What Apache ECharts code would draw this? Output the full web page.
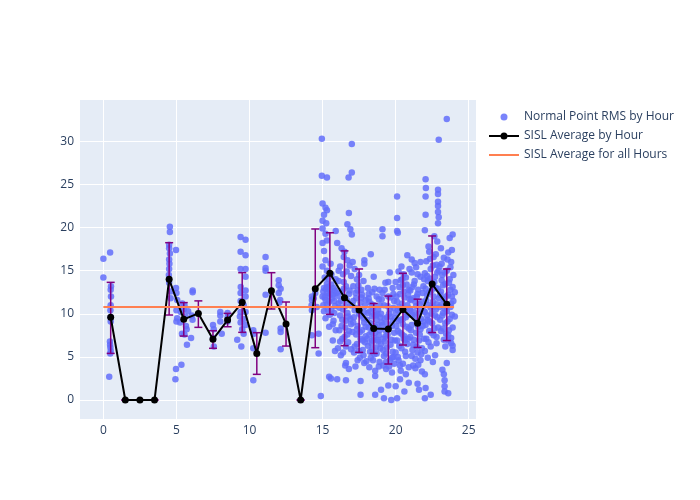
<!DOCTYPE html>
<html>
<head>
<meta charset="utf-8">
<script src="https://cdn.jsdelivr.net/npm/echarts@6/dist/echarts.min.js"></script>
<style>html,body{margin:0;padding:0;background:#fff;}#c{width:700px;height:500px;}</style>
</head>
<body>
<div id="c"></div>
<script>
// ---- Data ----
const hourX = [0.5,1.5,2.5,3.5,4.5,5.5,6.5,7.5,8.5,9.5,10.5,11.5,12.5,13.5,14.5,15.5,16.5,17.5,18.5,19.5,20.5,21.5,22.5,23.5];
const hourAvg = [9.6,0,0,0,14.0,9.36,10.05,7.04,9.28,11.33,5.41,12.68,8.82,0,12.92,14.7,11.87,10.44,8.31,8.24,10.5,8.9,13.46,11.1];
const hourLow = [5.41,0,0,0,9.86,7.42,8.43,6.0,8.5,7.85,2.98,10.56,6.26,0,6.07,9.94,6.3,5.53,5.41,4.18,6.38,6.1,7.83,6.9];
const hourHigh = [13.65,0,0,0,18.25,11.3,11.5,8.04,10.05,14.77,7.81,14.77,11.37,0,19.84,19.4,17.3,15.2,11.2,12.06,14.7,11.7,19.03,15.2];
const overallAvg = 10.8;
const overallRange = [0, 24];

const ptsH0 = [[0.0,16.4],[0.46,17.1],[0.0,14.2],[0.52,13.2],[0.5,12.8],[0.52,12.0],[0.5,11.0],[0.48,10.4],[0.5,9.6],[0.5,9.1],[0.45,6.8],[0.46,6.4],[0.48,6.1],[0.5,5.7],[0.47,5.4],[0.4,2.7]];
const ptsH4 = [[4.55,20.1],[4.55,19.5],[4.5,18.0],[4.5,17.6],[4.55,17.0],[4.97,17.4],[4.5,16.3],[4.52,15.8],[4.5,15.2],[4.48,14.5],[4.5,13.6],[4.97,13.0],[4.6,12.6],[5.0,12.4],[4.6,11.8],[5.05,11.6],[5.0,10.4],[5.05,9.5],[5.0,9.1],[4.97,3.6],[4.93,2.4]];
const ptsH5 = [[5.38,7.7],[5.34,4.1],[5.72,6.4],[5.5,10.5],[5.55,11.0],[5.6,9.7],[5.65,8.6],[5.7,8.2],[5.55,7.6],[6.0,7.2],[6.11,12.7],[6.11,12.5],[6.1,9.3],[6.05,9.8],[5.8,10.3],[5.3,10.2],[5.25,9.0],[5.4,11.2]];
const ptsH7 = [[7.5,8.7],[7.55,8.2],[7.5,7.2],[7.56,6.2],[8.0,10.2],[8.0,9.8],[8.0,9.1],[8.1,7.7],[8.5,10.1],[8.5,9.6],[8.5,9.1]];
const ptsH9 = [[9.16,7.0],[9.44,6.2],[9.34,9.7],[9.39,18.9],[9.73,18.6],[9.39,17.2],[9.73,16.8],[9.39,15.2],[9.73,15.2],[9.73,14.3],[9.4,13.1],[9.73,12.7],[9.39,12.4],[9.73,12.0],[9.39,11.5],[9.6,11.0],[9.39,10.2],[9.73,10.2],[9.6,9.4],[9.39,9.0],[9.73,8.7],[9.6,7.7],[9.5,8.2]];
const ptsH10 = [[10.26,8.1],[10.26,6.0],[10.26,2.3],[10.3,7.7],[11.1,16.6],[11.1,15.3],[11.1,15.0],[11.1,12.2],[11.1,7.8],[12.0,13.9],[12.0,13.3],[12.13,12.9],[12.0,12.4],[12.1,11.6],[12.13,8.3],[12.13,7.9],[12.13,5.9],[12.05,11.3]];
const ptsH14 = [[14.27,12.0],[14.27,11.6],[14.25,11.0],[14.27,10.4],[14.27,7.5],[14.73,7.7],[14.73,5.4],[14.88,0.46],[14.4,11.8],[14.5,12.4],[14.6,10.8]];
const ptsH15 = [[14.95,30.3],[14.95,26.0],[15.3,25.8],[15.0,22.8],[15.2,22.3],[15.3,22.0],[15.1,21.5],[15.0,20.8],[15.25,20.5],[15.0,19.9],[15.2,19.3],[15.0,18.2],[15.3,18.5],[15.1,17.3],[15.0,15.5],[15.3,15.0],[15.15,14.2],[15.3,13.5],[15.1,13.0],[15.3,12.4],[15.0,12.0],[15.2,11.6],[15.05,11.0],[15.4,12.1],[15.5,12.8],[15.6,13.4],[15.7,12.2],[15.8,11.5],[15.45,8.5],[15.45,2.7],[15.6,10.4],[15.75,9.2],[15.9,14.0],[15.55,15.8],[15.9,19.6],[15.85,12.7],[15.7,8.8],[15.57,2.5],[15.2,9.5],[15.35,10.5],
  [15.05,12.6],[15.15,11.9],[15.25,12.9],[15.35,13.1],[15.45,11.4],[15.55,12.3],[15.65,11.8],[15.75,13.0],[15.85,10.9],[15.95,12.4],[15.1,10.3],[15.3,11.1],[15.5,9.9],[15.8,10.1],[15.6,14.6],[15.4,14.1],[15.2,16.2],[15.9,8.1],[15.7,6.9],[15.85,5.7]];
const ptsH16 = [[16.0,2.4],[16.6,2.3],[16.78,25.8],[16.8,21.7],[16.7,20.4],[16.9,19.8],[17.0,19.2],[16.0,18.2],[16.3,17.6],[16.5,17.2],[16.7,16.2],[16.2,15.5],[16.4,14.6],[16.1,13.8],[16.6,13.2],[16.3,12.6],[16.8,12.3],[16.5,11.8],[16.1,11.2],[16.9,11.0],[16.4,10.5],[16.7,10.1],[16.2,9.8],[16.6,9.2],[16.3,8.6],[16.8,8.0],[16.5,7.3],[16.2,6.8],[16.6,6.2],[16.4,5.5],[16.6,4.3],[16.55,4.0],[16.8,3.6],[16.1,15.0],[16.95,14.4],[16.45,16.6],[16.9,9.4],[16.7,7.6],[17.0,29.7],[17.0,26.4],
  [16.05,12.1],[16.15,10.7],[16.25,11.5],[16.35,9.3],[16.45,12.9],[16.55,10.9],[16.65,11.6],[16.75,9.7],[16.85,12.7],[16.95,8.8],[16.15,8.1],[16.35,7.1],[16.55,8.4],[16.75,6.7],[16.95,5.9],[16.25,5.2],[16.45,13.7],[16.65,14.9],[16.85,15.6],[16.05,6.0]];
const ptsH17 = [[17.06,16.0],[17.86,16.2],[17.86,15.8],[17.2,15.2],[17.5,14.5],[17.8,13.8],[17.1,13.2],[17.4,12.7],[17.7,12.2],[17.3,11.8],[17.6,11.3],[17.9,10.9],[17.2,10.4],[17.5,10.0],[17.8,9.5],[17.1,9.0],[17.4,8.6],[17.7,8.1],[17.3,7.6],[17.6,7.1],[17.9,6.7],[17.2,6.2],[17.5,5.7],[17.8,5.2],[17.85,4.3],[17.6,2.2],[17.6,0.6],[17.4,4.6],[17.95,11.6],[17.05,7.9],[17.65,9.8],[17.35,14.0],
  [17.05,11.0],[17.15,9.6],[17.25,12.4],[17.35,8.2],[17.45,10.7],[17.55,7.9],[17.65,11.9],[17.75,6.9],[17.85,9.0],[17.95,7.4],[17.15,5.5],[17.35,6.5],[17.55,4.9],[17.75,5.8],[17.95,8.5],[17.25,3.9],[17.45,13.3],[17.65,12.8],[17.85,10.2],[17.1,11.5]];
const ptsH18 = [[18.3,16.9],[18.6,3.4],[18.6,2.8],[18.6,0.6],[18.1,13.0],[18.4,12.5],[18.7,12.0],[18.2,11.4],[18.5,11.0],[18.8,10.5],[18.1,10.1],[18.4,9.7],[18.7,9.3],[18.3,8.9],[18.6,8.5],[18.9,8.1],[18.2,7.6],[18.5,7.2],[18.8,6.8],[18.1,6.3],[18.4,5.9],[18.7,5.4],[18.3,4.9],[18.9,4.4],[18.0,4.5],[18.55,9.9],[18.85,11.7],[18.35,7.9],[18.95,6.0],[18.15,8.4],[18.75,7.0],[18.45,10.6],[18.5,14.3],[18.9,12.8],[18.2,3.8],
  [18.05,9.3],[18.15,11.8],[18.25,10.3],[18.35,6.6],[18.45,8.2],[18.55,5.3],[18.65,9.8],[18.75,8.7],[18.85,7.5],[18.95,9.6],[18.05,7.1],[18.25,5.6],[18.45,4.6],[18.65,6.1],[18.85,3.9],[18.15,12.3],[18.35,11.1],[18.55,12.9],[18.75,10.0],[18.95,11.0],[18.6,7.8],[18.4,6.9]];
const ptsH19 = [[19.1,19.8],[19.1,19.0],[19.2,0.2],[19.7,0.0],[19.5,1.7],[19.0,1.2],[19.6,14.8],[19.3,13.6],[19.8,13.0],[19.1,12.4],[19.5,12.0],[19.9,11.5],[19.2,11.0],[19.6,10.5],[19.0,10.0],[19.4,9.6],[19.8,9.2],[19.1,8.7],[19.5,8.3],[19.9,7.8],[19.3,7.4],[19.7,7.0],[19.0,6.5],[19.4,6.1],[19.8,5.6],[19.2,5.1],[19.6,4.6],[19.9,4.2],[19.35,3.6],[19.75,3.2],[19.45,8.8],[19.65,9.7],[19.25,6.8],[19.85,10.7],[19.15,4.0],
  [19.05,9.0],[19.15,7.1],[19.25,9.4],[19.35,5.4],[19.45,7.6],[19.55,10.0],[19.65,6.4],[19.75,8.6],[19.85,5.0],[19.95,9.5],[19.05,11.7],[19.25,12.8],[19.45,10.9],[19.65,11.9],[19.85,12.3],[19.15,5.8],[19.35,4.4],[19.55,3.9],[19.75,4.9],[19.95,6.9],[19.5,13.7],[19.3,8.1]];
const ptsH20 = [[20.1,23.6],[20.1,21.1],[20.1,19.6],[20.15,19.4],[20.8,16.8],[20.6,1.0],[20.3,2.4],[20.1,0.2],[20.0,1.6],[20.4,15.5],[20.2,14.9],[20.7,14.2],[20.0,13.7],[20.5,13.3],[20.9,12.8],[20.3,12.3],[20.6,11.9],[20.1,11.4],[20.8,11.0],[20.4,10.5],[20.0,10.1],[20.7,9.6],[20.2,9.2],[20.5,8.8],[20.9,8.3],[20.3,7.8],[20.6,7.4],[20.1,6.9],[20.8,6.5],[20.4,6.0],[20.0,5.5],[20.7,5.1],[20.2,4.6],[20.5,4.2],[20.9,3.8],[20.35,3.4],[20.55,12.6],[20.25,10.8],[20.85,9.9],[20.15,8.0],[20.65,6.9],[20.45,14.0],[20.95,15.2],
  [20.05,12.0],[20.15,10.4],[20.25,13.1],[20.35,9.3],[20.45,11.2],[20.55,7.1],[20.65,10.2],[20.75,8.5],[20.85,12.2],[20.95,10.6],[20.05,8.6],[20.25,6.3],[20.45,7.6],[20.65,5.6],[20.85,7.1],[20.15,5.0],[20.35,13.9],[20.55,14.6],[20.75,13.4],[20.95,11.7],[20.5,9.4],[20.3,4.0],[20.7,3.0],[20.9,2.0]];
const ptsH21 = [[21.6,1.2],[21.5,1.9],[21.2,4.0],[21.8,3.3],[21.4,15.4],[21.1,14.8],[21.7,14.3],[21.3,13.8],[21.9,13.2],[21.0,12.7],[21.5,12.3],[21.2,11.8],[21.8,11.4],[21.4,10.9],[21.0,10.5],[21.6,10.0],[21.3,9.6],[21.9,9.1],[21.1,8.7],[21.7,8.2],[21.4,7.8],[21.0,7.3],[21.6,6.9],[21.2,6.4],[21.8,6.0],[21.5,5.5],[21.1,5.1],[21.7,4.6],[21.35,3.7],[21.45,12.0],[21.75,10.6],[21.15,9.9],[21.55,8.5],[21.95,7.1],[21.25,13.4],
  [21.05,11.6],[21.15,13.1],[21.25,10.2],[21.35,11.4],[21.45,9.0],[21.55,12.8],[21.65,11.1],[21.75,9.4],[21.85,12.4],[21.95,10.3],[21.05,8.1],[21.25,7.0],[21.45,6.2],[21.65,7.6],[21.85,8.6],[21.15,5.8],[21.35,4.8],[21.55,4.1],[21.75,5.3],[21.95,14.0],[21.5,14.6],[21.3,15.9],[21.1,16.3],[21.7,16.0]];
const ptsH22 = [[22.05,25.6],[22.07,24.6],[22.05,23.6],[22.05,21.5],[22.0,19.7],[22.9,24.4],[22.9,23.9],[22.9,23.0],[22.9,22.5],[22.9,21.8],[22.95,21.2],[22.9,20.5],[22.95,30.2],[22.0,0.2],[22.4,0.6],[22.05,1.4],[22.0,3.0],[22.3,17.2],[22.6,16.6],[22.1,16.1],[22.8,15.7],[22.4,15.2],[22.0,14.7],[22.7,14.3],[22.2,13.8],[22.5,13.4],[22.9,12.9],[22.3,12.5],[22.6,12.0],[22.1,11.6],[22.8,11.1],[22.4,10.7],[22.0,10.2],[22.7,9.8],[22.2,9.3],[22.5,8.9],[22.9,8.4],[22.3,8.0],[22.6,7.5],[22.1,7.1],[22.8,6.6],[22.4,6.2],[22.0,5.7],[22.7,5.2],[22.55,4.4],[22.25,17.8],[22.85,18.4],[22.65,19.0],[22.45,10.0],[22.15,12.2],[22.75,13.0],
  [22.05,12.9],[22.15,9.8],[22.25,11.0],[22.35,14.1],[22.45,12.7],[22.55,11.4],[22.65,13.7],[22.75,10.5],[22.85,14.8],[22.95,11.8],[22.05,8.7],[22.25,6.7],[22.45,7.8],[22.65,8.3],[22.85,9.6],[22.15,14.4],[22.35,16.4],[22.55,15.6],[22.75,16.9],[22.95,15.0],[22.6,10.8],[22.3,9.1],[22.8,7.3],[22.2,4.9]];
const ptsH23 = [[23.5,32.6],[23.9,19.2],[23.7,18.8],[23.35,1.6],[23.35,1.0],[23.35,2.3],[23.3,3.0],[23.2,3.5],[23.9,5.8],[23.9,6.3],[23.1,17.6],[23.6,17.1],[23.3,16.5],[23.8,16.0],[23.0,15.5],[23.5,15.0],[23.2,14.5],[23.7,14.0],[23.4,13.5],[23.9,13.1],[23.1,12.6],[23.6,12.2],[23.3,11.7],[23.8,11.2],[23.0,10.8],[23.5,10.3],[23.2,9.8],[23.7,9.4],[23.4,8.9],[23.9,8.4],[23.1,8.0],[23.6,7.5],[23.3,7.0],[23.8,6.6],[23.5,4.3],[23.6,0.8],[23.75,12.8],[23.25,10.1],[23.45,7.7],[23.85,17.4],[23.15,13.9],
  [23.05,12.2],[23.15,11.1],[23.25,13.3],[23.35,10.6],[23.45,12.0],[23.55,9.1],[23.65,13.6],[23.75,10.8],[23.85,12.0],[23.95,11.5],[23.05,9.3],[23.25,8.3],[23.45,10.9],[23.65,8.1],[23.85,9.9],[23.15,15.8],[23.35,14.8],[23.55,16.3],[23.75,15.4],[23.95,14.5],[23.6,6.9],[23.4,6.2],[23.8,7.2],[24.05,12.5],[24.05,9.7]];

const allPts = [].concat(ptsH0, ptsH4, ptsH5, ptsH7, ptsH9, ptsH10, ptsH14, ptsH15, ptsH16, ptsH17, ptsH18, ptsH19, ptsH20, ptsH21, ptsH22, ptsH23);

const avgData = hourX.map((x, i) => [x, hourAvg[i]]);
const errData = hourX.map((x, i) => [x, hourLow[i], hourHigh[i]]);
const overallData = overallRange.map(x => [x, overallAvg]);

const txt = '#2a3f5f';
const chart = echarts.init(document.getElementById('c'), null, {renderer: 'canvas'});
chart.setOption({
  backgroundColor: '#ffffff',
  animation: false,
  textStyle: {fontFamily: '"Open Sans", sans-serif'},
  grid: {left: 80, right: 224, top: 100, bottom: 81, show: true, backgroundColor: '#e5ecf6', borderWidth: 0},
  legend: {
    orient: 'vertical', left: 484, top: 105, itemWidth: 30, itemHeight: 14, itemGap: 5,
    textStyle: {color: txt, fontSize: 12, fontFamily: '"Open Sans", sans-serif'},
    data: [
      {name: 'Normal Point RMS by Hour', icon: 'path://M0,0M30,14M11.5,7a3.5,3.5 0 1,0 7,0a3.5,3.5 0 1,0 -7,0'},
      {name: 'SISL Average by Hour', icon: 'path://M0,0M30,14M0,6L11.6,6L11.6,8L0,8ZM18.4,6L30,6L30,8L18.4,8ZM11.5,7a3.5,3.5 0 1,0 7,0a3.5,3.5 0 1,0 -7,0'},
      {name: 'SISL Average for all Hours', icon: 'path://M0,0M30,14M0,6L30,6L30,8L0,8Z'}
    ]
  },
  xAxis: {
    type: 'value', min: -1.6, max: 25.5, minInterval: 5, maxInterval: 5,
    axisLine: {show: false}, axisTick: {show: false},
    axisLabel: {color: txt, fontSize: 12, margin: 6, showMinLabel: false, showMaxLabel: false},
    splitLine: {lineStyle: {color: '#ffffff', width: 1}, showMinLine: false, showMaxLine: false}
  },
  yAxis: {
    type: 'value', min: -2.2, max: 34.8, minInterval: 5, maxInterval: 5,
    axisLine: {show: false}, axisTick: {show: false},
    axisLabel: {color: txt, fontSize: 12, margin: 6, showMinLabel: false, showMaxLabel: false},
    splitLine: {lineStyle: {color: '#ffffff', width: 1}, showMinLine: false, showMaxLine: false}
  },
  series: [
    {
      name: 'Normal Point RMS by Hour', type: 'scatter', data: allPts,
      symbol: 'circle', symbolSize: 6.5, z: 2,
      itemStyle: {color: '#636efa', opacity: 0.85}
    },
    {
      name: 'errorbars', type: 'custom', data: errData, z: 3,
      renderItem: function (params, api) {
        const x = api.value(0);
        const lo = api.coord([x, api.value(1)]);
        const hi = api.coord([x, api.value(2)]);
        const w = 4;
        const st = {stroke: '#800080', lineWidth: 1.5};
        return {type: 'group', children: [
          {type: 'line', shape: {x1: lo[0], y1: lo[1], x2: hi[0], y2: hi[1]}, style: st},
          {type: 'line', shape: {x1: lo[0]-w, y1: lo[1], x2: lo[0]+w, y2: lo[1]}, style: st},
          {type: 'line', shape: {x1: hi[0]-w, y1: hi[1], x2: hi[0]+w, y2: hi[1]}, style: st}
        ]};
      },
      encode: {x: 0, y: [1, 2]}
    },
    {
      name: 'SISL Average by Hour', type: 'line', data: avgData, z: 4,
      symbol: 'circle', symbolSize: 7, showSymbol: true,
      lineStyle: {color: '#000000', width: 2},
      itemStyle: {color: '#000000'}
    },
    {
      name: 'SISL Average for all Hours', type: 'line', data: overallData, z: 5,
      symbol: 'none', showSymbol: false,
      lineStyle: {color: '#ff7f50', width: 2},
      itemStyle: {color: '#ff7f50'}
    }
  ]
});
</script>
</body>
</html>
